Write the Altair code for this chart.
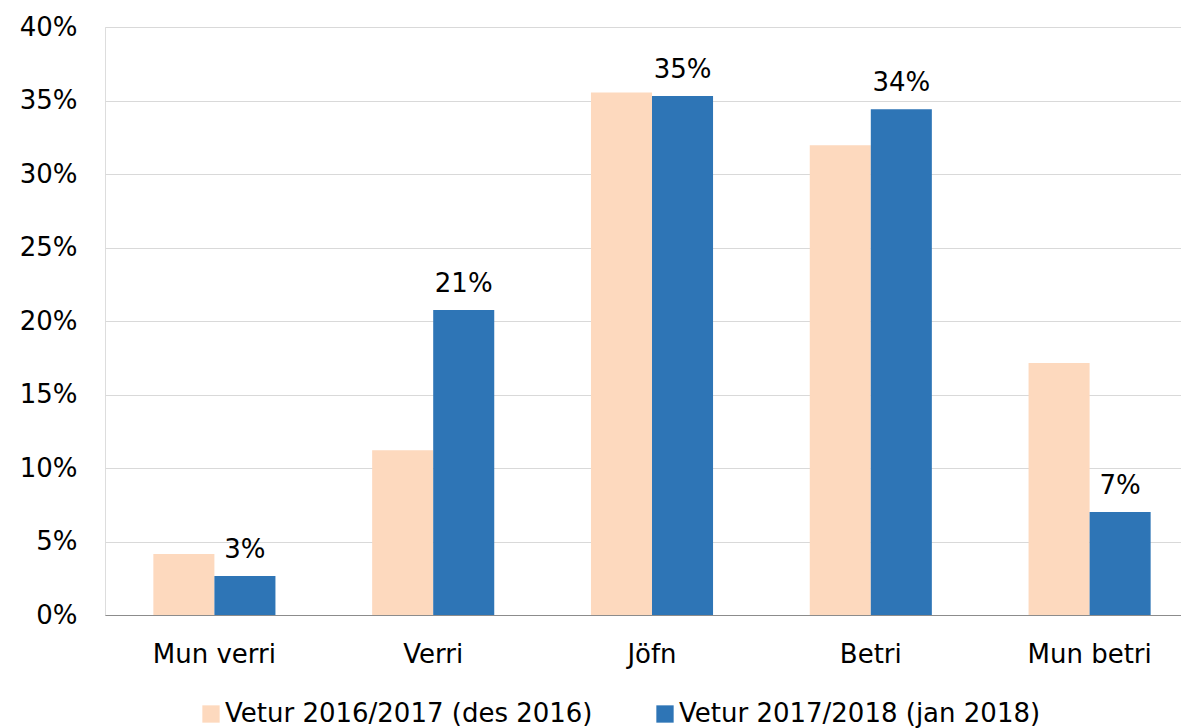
import altair as alt
import pandas as pd

# Survey answers by category, two winters compared
categories = ["Mun verri", "Verri", "Jöfn", "Betri", "Mun betri"]
series_names = ["Vetur 2016/2017 (des 2016)", "Vetur 2017/2018 (jan 2018)"]
winter_1617 = [0.0415, 0.112, 0.3555, 0.3195, 0.1715]
winter_1718 = [0.0265, 0.2075, 0.353, 0.344, 0.070]
colors = ["#FDD9BE", "#2E75B6"]
y_ticks = [0, 0.05, 0.10, 0.15, 0.20, 0.25, 0.30, 0.35, 0.40]

rows = []
for cat, a, b in zip(categories, winter_1617, winter_1718):
    rows.append({"cat": cat, "series": series_names[0], "value": a})
    rows.append({"cat": cat, "series": series_names[1], "value": b})
df = pd.DataFrame(rows)

FONT = "DejaVu Sans"
FS = 26

x = alt.X(
    "cat:N",
    sort=categories,
    scale=alt.Scale(range=[0, 1094], paddingInner=0.442, paddingOuter=0.221),
    axis=alt.Axis(
        title=None, labelAngle=0, ticks=False, grid=False,
        gridColor="transparent", domainColor="#8C8C8C", domainWidth=1.2,
        labelPadding=26, labelFontSize=FS, labelColor="black", labelFont=FONT,
    ),
)
x_off = alt.XOffset("series:N", sort=series_names, scale=alt.Scale(paddingInner=0))
y = alt.Y(
    "value:Q",
    scale=alt.Scale(domain=[0, 0.4]),
    axis=alt.Axis(
        values=y_ticks, format="%", title=None, ticks=False, domain=False,
        domainColor="transparent", domainWidth=0, gridColor="#D9D9D9",
        gridWidth=1.2, labelPadding=28, labelFontSize=FS, labelColor="black",
        labelFont=FONT,
    ),
)

bars = alt.Chart(df).mark_bar().encode(
    x=x,
    xOffset=x_off,
    y=y,
    color=alt.Color(
        "series:N",
        sort=series_names,
        scale=alt.Scale(domain=series_names, range=colors),
        legend=alt.Legend(
            title=None, orient="none", legendX=93, legendY=674,
            direction="horizontal", symbolType="square", symbolSize=300,
            symbolStrokeWidth=0, labelFontSize=FS, labelFont=FONT,
            labelColor="black", columnPadding=59, labelOffset=1,
            labelLimit=600,
        ),
    ),
)

labels = alt.Chart(df).transform_filter(
    alt.datum.series == series_names[1]
).mark_text(
    baseline="alphabetic", dy=-18, fontSize=FS, font=FONT, color="black"
).encode(
    x=x,
    xOffset=x_off,
    y=y,
    text=alt.Text("value:Q", format=".0%"),
)

chart = (
    alt.layer(bars, labels)
    .properties(
        width=1076,
        height=588,
        autosize=alt.AutoSizeParams(type="none"),
        padding={"left": 105, "top": 27, "right": 0, "bottom": 113},
    )
    .configure_view(stroke="transparent", strokeWidth=0)
    .configure_axisX(grid=False)
    .configure_axisY(domain=False, domainColor="transparent", ticks=False)
    .configure(font=FONT)
)

chart.save("out.html", embed_options={"renderer": "svg", "actions": False})
